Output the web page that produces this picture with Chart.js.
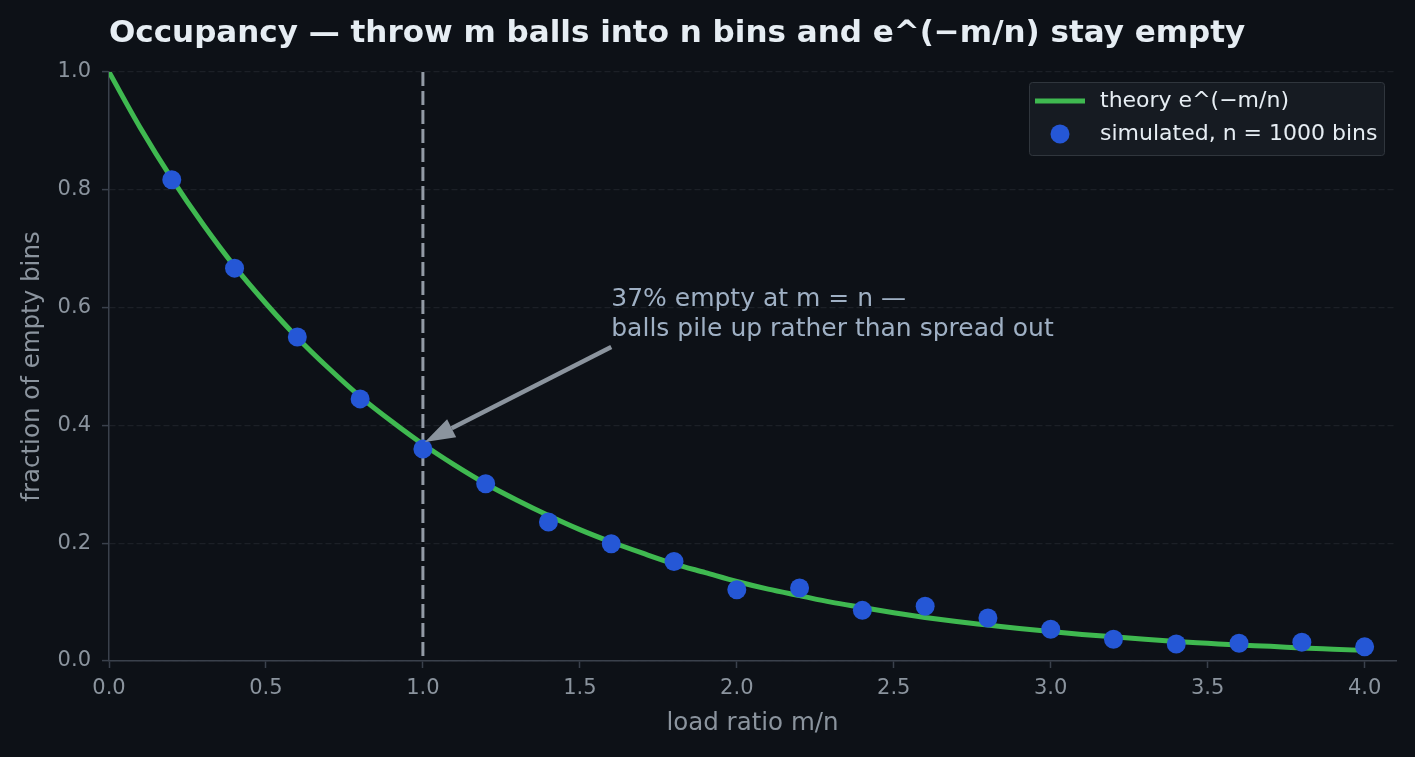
<!DOCTYPE html>
<html>
<head>
<meta charset="utf-8">
<script src="https://cdn.jsdelivr.net/npm/chart.js@4.4.1/dist/chart.umd.min.js"></script>
<style>
  html, body { margin: 0; padding: 0; background: #0d1117; }
  #wrap { width: 1415px; height: 757px; position: relative; }
</style>
</head>
<body>
<div id="wrap"><canvas id="myChart"></canvas></div>
<script>
// load ratio m/n for the theory curve (0.1 steps) and readings of e^(-m/n)
const theoryX = [0.0, 0.1, 0.2, 0.3, 0.4, 0.5, 0.6, 0.7, 0.8, 0.9, 1.0, 1.1, 1.2, 1.3, 1.4, 1.5, 1.6, 1.7, 1.8, 1.9, 2.0,
                 2.1, 2.2, 2.3, 2.4, 2.5, 2.6, 2.7, 2.8, 2.9, 3.0, 3.1, 3.2, 3.3, 3.4, 3.5, 3.6, 3.7, 3.8, 3.9, 4.0];
const theoryY = [1.000, 0.905, 0.819, 0.741, 0.670, 0.607, 0.549, 0.497, 0.449, 0.407, 0.368, 0.333, 0.301, 0.273, 0.247,
                 0.223, 0.202, 0.183, 0.165, 0.150, 0.135, 0.122, 0.111, 0.100, 0.091, 0.082, 0.074, 0.067, 0.061, 0.055,
                 0.050, 0.045, 0.041, 0.037, 0.033, 0.030, 0.027, 0.025, 0.022, 0.020, 0.018];

// simulated points, n = 1000 bins
const simX = [0.2, 0.4, 0.6, 0.8, 1.0, 1.2, 1.4, 1.6, 1.8, 2.0, 2.2, 2.4, 2.6, 2.8, 3.0, 3.2, 3.4, 3.6, 3.8, 4.0];
const simY = [0.817, 0.667, 0.550, 0.445, 0.360, 0.301, 0.236, 0.199, 0.169, 0.121, 0.124, 0.086, 0.093, 0.073,
              0.054, 0.037, 0.029, 0.030, 0.032, 0.024];

const xTicks = [0.0, 0.5, 1.0, 1.5, 2.0, 2.5, 3.0, 3.5, 4.0];
const yTicks = [0.0, 0.2, 0.4, 0.6, 0.8, 1.0];

const titleText = 'Occupancy \u2014 throw m balls into n bins and e^(\u2212m/n) stay empty';
const noteLines = ['37% empty at m = n \u2014', 'balls pile up rather than spread out'];
const legendLabels = ['theory e^(\u2212m/n)', 'simulated, n = 1000 bins'];

const GREEN = '#3fb950';
const BLUE = '#2557d6';
const MUTED = '#8b949e';
const SPINE = '#3a414c';
const FONT = '"DejaVu Sans", sans-serif';

const theoryData = theoryX.map((x, i) => ({ x: x, y: theoryY[i] }));
const simData = simX.map((x, i) => ({ x: x, y: simY[i] }));

const decor = {
    id: 'decor',
    beforeDraw(chart) {
        const ctx = chart.ctx;
        ctx.save();
        ctx.fillStyle = '#0d1117';
        ctx.fillRect(0, 0, chart.width, chart.height);
        ctx.restore();
    },
    beforeDatasetsDraw(chart) {
        const { ctx, chartArea, scales } = chart;
        const x1 = scales.x.getPixelForValue(1.0);
        ctx.save();
        ctx.strokeStyle = '#939ba6';
        ctx.lineWidth = 3;
        ctx.setLineDash([14, 5]);
        ctx.beginPath();
        ctx.moveTo(x1, chartArea.top);
        ctx.lineTo(x1, chartArea.bottom);
        ctx.stroke();
        ctx.restore();
    },
    afterDraw(chart) {
        const { ctx, chartArea, scales } = chart;
        const sx = scales.x, sy = scales.y;
        ctx.save();

        // title
        ctx.fillStyle = '#e6edf3';
        ctx.font = 'bold 31px ' + FONT;
        ctx.textBaseline = 'middle';
        ctx.textAlign = 'left';
        ctx.fillText(titleText, chartArea.left, 34);

        // annotation text
        ctx.fillStyle = '#9fb0c4';
        ctx.font = '25px ' + FONT;
        ctx.fillText(noteLines[0], sx.getPixelForValue(1.6), sy.getPixelForValue(0.614));
        ctx.fillText(noteLines[1], sx.getPixelForValue(1.6), sy.getPixelForValue(0.563));

        // arrow
        const ax = sx.getPixelForValue(1.6), ay = sy.getPixelForValue(0.533);
        const bx = sx.getPixelForValue(1.0) + 2, by = sy.getPixelForValue(0.372);
        const ang = Math.atan2(by - ay, bx - ax);
        const head = 30, hw = 10;
        const hx = bx - head * Math.cos(ang), hy = by - head * Math.sin(ang);
        ctx.strokeStyle = MUTED;
        ctx.fillStyle = MUTED;
        ctx.lineWidth = 4.5;
        ctx.beginPath();
        ctx.moveTo(ax, ay);
        ctx.lineTo(hx, hy);
        ctx.stroke();
        ctx.beginPath();
        ctx.moveTo(bx, by);
        ctx.lineTo(hx + hw * Math.sin(ang), hy - hw * Math.cos(ang));
        ctx.lineTo(hx - hw * Math.sin(ang), hy + hw * Math.cos(ang));
        ctx.closePath();
        ctx.fill();

        // legend box
        const lx = 1029, ly = 82, lw = 355, lh = 73;
        ctx.fillStyle = '#161b22';
        ctx.strokeStyle = '#30363d';
        ctx.lineWidth = 1;
        ctx.beginPath();
        ctx.roundRect(lx + 0.5, ly + 0.5, lw, lh, 3);
        ctx.fill();
        ctx.stroke();

        ctx.strokeStyle = GREEN;
        ctx.lineWidth = 5;
        ctx.beginPath();
        ctx.moveTo(lx + 6, ly + 19);
        ctx.lineTo(lx + 56, ly + 19);
        ctx.stroke();

        ctx.fillStyle = BLUE;
        ctx.beginPath();
        ctx.arc(lx + 31, ly + 52, 9.5, 0, Math.PI * 2);
        ctx.fill();

        ctx.fillStyle = '#e6edf3';
        ctx.font = '22px ' + FONT;
        ctx.fillText(legendLabels[0], lx + 71, ly + 19);
        ctx.fillText(legendLabels[1], lx + 71, ly + 52);
        ctx.restore();
    }
};

const config = {
    type: 'scatter',
    data: {
        datasets: [{
            label: legendLabels[0],
            data: theoryData,
            showLine: true,
            borderColor: GREEN,
            borderWidth: 5,
            pointRadius: 0,
            cubicInterpolationMode: 'monotone',
            order: 2
        }, {
            label: legendLabels[1],
            data: simData,
            backgroundColor: BLUE,
            borderWidth: 0,
            pointRadius: 9.5,
            order: 1
        }]
    },
    options: {
        responsive: true,
        maintainAspectRatio: false,
        animation: false,
        layout: { padding: { top: 72, right: 19, left: 0, bottom: 0 } },
        plugins: {
            legend: { display: false },
            tooltip: { enabled: false }
        },
        scales: {
            x: {
                type: 'linear',
                min: 0,
                max: 4.1,
                afterFit: (s) => { s.height = 96; },
                afterBuildTicks: (s) => { s.ticks = xTicks.map(v => ({ value: v })); },
                ticks: {
                    color: MUTED,
                    font: { family: FONT, size: 21 },
                    padding: 8,
                    callback: (v) => Number(v).toFixed(1)
                },
                grid: { drawOnChartArea: false, tickLength: 7, tickColor: SPINE, tickWidth: 1.5 },
                border: { color: SPINE, width: 1.5 },
                title: {
                    display: true,
                    text: 'load ratio m/n',
                    color: MUTED,
                    font: { family: FONT, size: 24.5 },
                    padding: { top: 0, bottom: 19 }
                }
            },
            y: {
                type: 'linear',
                min: 0,
                max: 1.0,
                afterFit: (s) => { s.width = 109; },
                afterBuildTicks: (s) => { s.ticks = yTicks.map(v => ({ value: v })); },
                ticks: {
                    color: MUTED,
                    font: { family: FONT, size: 21 },
                    padding: 11,
                    callback: (v) => Number(v).toFixed(1)
                },
                grid: { color: 'rgba(139,148,158,0.12)', lineWidth: 1.2, tickLength: 7, tickColor: SPINE, tickWidth: 1.5 },
                border: { color: SPINE, width: 1.5, dash: [6, 3] },
                title: {
                    display: true,
                    text: 'fraction of empty bins',
                    color: MUTED,
                    font: { family: FONT, size: 24.5 },
                    padding: { top: 18, bottom: 0 }
                }
            }
        }
    },
    plugins: [decor]
};

const myChart = new Chart(document.getElementById('myChart'), config);
</script>
</body>
</html>
